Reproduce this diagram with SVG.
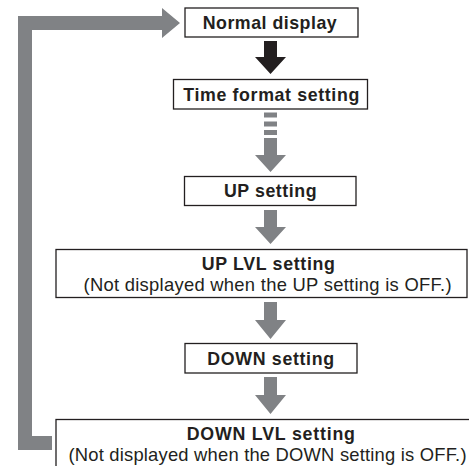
<svg xmlns="http://www.w3.org/2000/svg" width="469" height="466" viewBox="0 0 469 466">
<style>
.box{fill:#fff;stroke:#231f20;stroke-width:1.3}
.b{font-family:"Liberation Sans",Arial,sans-serif;font-weight:bold;font-size:17.8px;fill:#231f20;text-anchor:middle}
.r{font-family:"Liberation Sans",Arial,sans-serif;font-size:18.4px;fill:#231f20;text-anchor:middle}
.g{fill:#808285}
</style>
<rect width="469" height="466" fill="#fff"/>
<g id="connectors">
  <path class="g" d="M18,450 V16 H162 V8 L180,23 L162,38 V30 H32 V436 H52 V450 Z"/>
  <path fill="#231f20" d="M264,41 H277 V57 H286 L270.5,74 L255,57 H264 Z"/>
  <g class="g">
    <rect x="264" y="112.5" width="13" height="5"/>
    <rect x="264" y="121.5" width="13" height="5"/>
    <rect x="264" y="130" width="13" height="5"/>
  </g>
  <path class="g" d="M264,138 H277 V155 H286 L270.5,172 L255,155 H264 Z"/>
  <path class="g" d="M264,210 H277 V227 H286 L270.5,244 L255,227 H264 Z"/>
  <path class="g" d="M264,302 H277 V320 H286 L270.5,339 L255,320 H264 Z"/>
  <path class="g" d="M264,377 H277 V395 H286 L270.5,414 L255,395 H264 Z"/>
</g>
<g id="normal">
  <rect class="box" x="185" y="8" width="173" height="29"/>
  <text class="b" x="269.7" y="29" textLength="134">Normal display</text>
</g>
<g id="timeformat">
  <rect class="box" x="173.5" y="79.5" width="194" height="29.5"/>
  <text class="b" x="271.3" y="100.7" textLength="176">Time format setting</text>
</g>
<g id="up">
  <rect class="box" x="184.5" y="176.5" width="171.5" height="29"/>
  <text class="b" x="270.3" y="197" textLength="92.7">UP setting</text>
</g>
<g id="uplvl">
  <rect class="box" x="56" y="249.5" width="411" height="48"/>
  <text class="b" x="268.3" y="270.2" textLength="133.3">UP LVL setting</text>
  <text class="r" x="267.5" y="290.6" textLength="368">(Not displayed when the UP setting is OFF.)</text>
</g>
<g id="down">
  <rect class="box" x="185" y="343.5" width="172" height="29.5"/>
  <text class="b" x="270.7" y="365" textLength="126.7">DOWN setting</text>
</g>
<g id="downlvl">
  <rect class="box" x="56" y="419.5" width="420" height="60"/>
  <text class="b" x="270.8" y="440.2" textLength="168.3">DOWN LVL setting</text>
  <text class="r" x="267.5" y="460.6" textLength="398">(Not displayed when the DOWN setting is OFF.)</text>
</g>
</svg>
